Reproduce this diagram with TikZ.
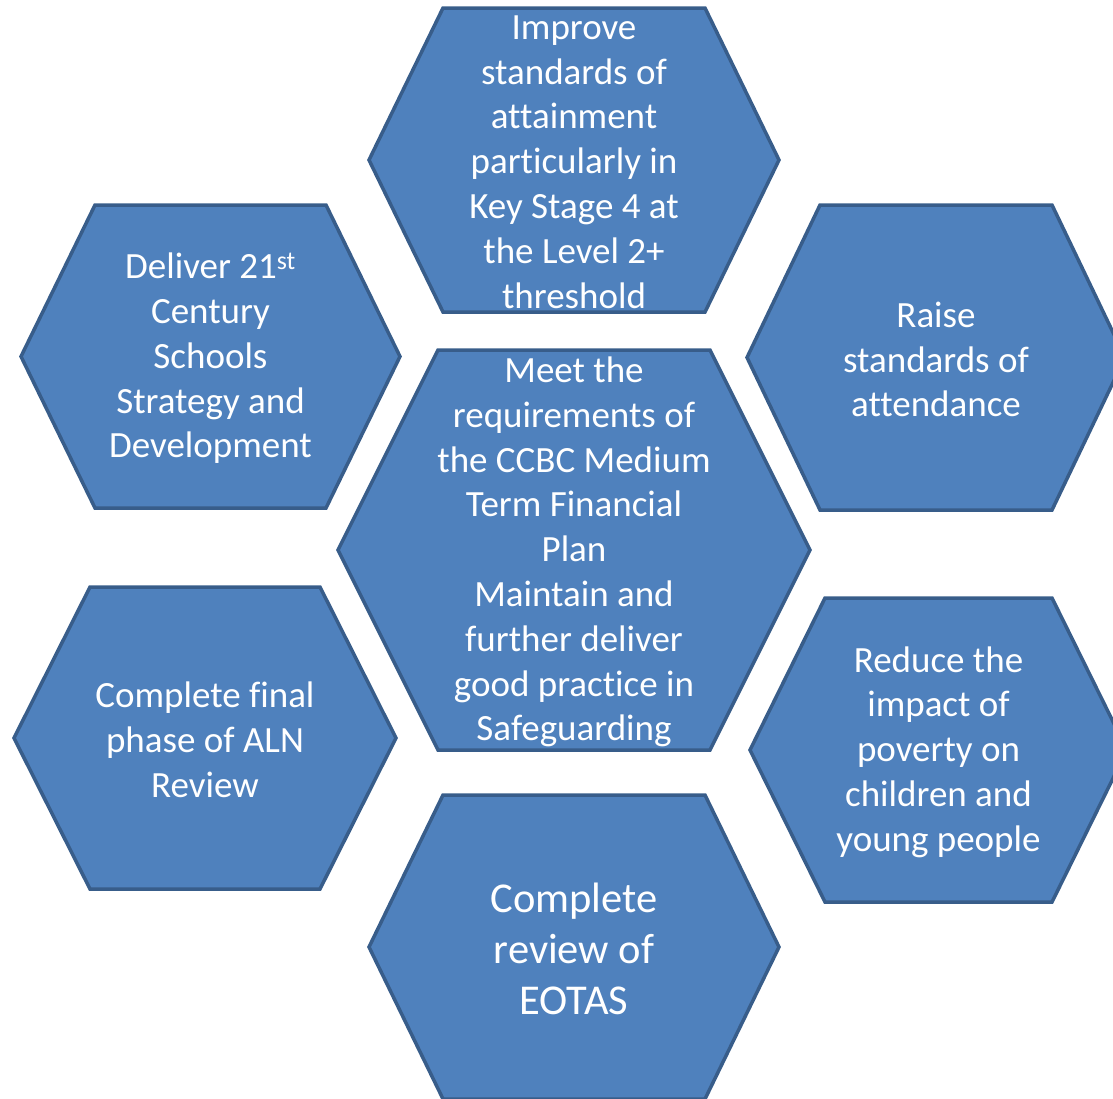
\documentclass[tikz,border=0pt]{standalone}
\usepackage{fontspec}
\setmainfont{Carlito}[RawFeature={-liga;-calt;-clig}]
\definecolor{hexfill}{HTML}{4F81BD}
\definecolor{hexline}{HTML}{385D8A}
\tikzset{
  hexbox/.style={fill=hexfill, draw=hexline, line width=3.5pt, line join=miter},
  hextext/.style={text=white, align=center, font=\fontsize{37}{44.8}\selectfont, inner sep=0pt, yshift=-2pt},
  hextextbig/.style={hextext, font=\fontsize{42.5}{51}\selectfont}
}
% name, cx, cy, half width, inset of top edge, half height
\newcommand{\myhex}[6]{%
  \coordinate (#1-c) at (#2,#3);
  \draw[hexbox] ({#2-#4},#3) -- ({#2-#4+#5},{#3-#6}) -- ({#2+#4-#5},{#3-#6}) -- ({#2+#4},#3) -- ({#2+#4-#5},{#3+#6}) -- ({#2-#4+#5},{#3+#6}) -- cycle;
}
\begin{document}
\begin{tikzpicture}[x=1pt,y=-1pt]
\useasboundingbox (0,0) rectangle (1113,1098);
\clip (0,0) rectangle (1113,1098);
\myhex{top}{574}{160}{205}{74}{152}
\myhex{lt}{210.5}{356.5}{189.5}{74}{151.5}
\myhex{rt}{936}{357.5}{189}{73}{152.5}
\myhex{ctr}{574}{550}{236}{100}{200}
\myhex{lb}{205}{738}{191}{76}{151}
\myhex{rb}{938.5}{750}{188.5}{75}{152}
\myhex{bot}{574}{947}{205}{74}{152}
\node[hextext] (ttop) at (top-c) {Improve\\standards of\\attainment\\particularly in\\Key Stage 4 at\\the Level 2+\\threshold};
\node[hextext] (tlt) at (lt-c) {Deliver 21\textsuperscript{st}\\Century\\Schools\\Strategy and\\Development};
\node[hextext] (trt) at (rt-c) {Raise\\standards of\\attendance};
\node[hextext] (tctr) at (ctr-c) {Meet the\\requirements of\\the CCBC Medium\\Term Financial\\Plan\\Maintain and\\further deliver\\good practice in\\Safeguarding};
\node[hextext] (tlb) at (lb-c) {Complete final\\phase of ALN\\Review};
\node[hextext] (trb) at (rb-c) {Reduce the\\impact of\\poverty on\\children and\\young people};
\node[hextextbig] (tbot) at (bot-c) {Complete\\review of\\EOTAS};
\end{tikzpicture}
\end{document}
